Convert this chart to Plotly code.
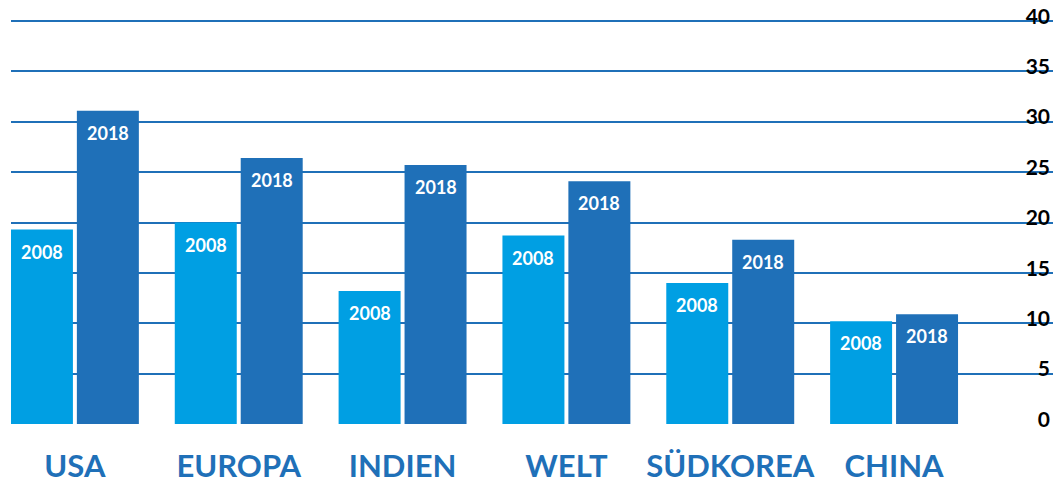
import plotly.graph_objects as go

categories = ["USA", "EUROPA", "INDIEN", "WELT", "SÜDKOREA", "CHINA"]
values_2008 = [19.3, 20.0, 13.2, 18.7, 14.0, 10.2]
values_2018 = [31.1, 26.4, 25.7, 24.1, 18.3, 10.9]
series_names = ["2008", "2018"]
y_ticks = [0, 5, 10, 15, 20, 25, 30, 35, 40]

c2008 = "#009fe3"
c2018 = "#1f70b8"

fig = go.Figure()
fig.add_trace(go.Bar(x=categories, y=values_2008, name=series_names[0],
                     marker=dict(color=c2008, line=dict(width=0))))
fig.add_trace(go.Bar(x=categories, y=values_2018, name=series_names[1],
                     marker=dict(color=c2018, line=dict(width=0))))

annots = []
for vals, name, sh in [(values_2008, series_names[0], -33), (values_2018, series_names[1], 33)]:
    for cat, v in zip(categories, vals):
        annots.append(dict(x=cat, y=v, text=name, showarrow=False, xshift=sh, yshift=-22,
                           yanchor="middle", xanchor="center",
                           font=dict(family="Lato", size=18, color="white", weight="bold")))

fig.update_layout(
    width=1056, height=477,
    margin=dict(l=11, r=3, t=17, b=53),
    paper_bgcolor="white", plot_bgcolor="white",
    barmode="group", bargap=0.195, bargroupgap=0.06,
    showlegend=False,
    annotations=annots,
    xaxis=dict(range=[-0.39, 5.97], showgrid=False, zeroline=False, showline=False,
               automargin=False,
               ticks="outside", ticklen=15, tickcolor="rgba(0,0,0,0)",
               tickfont=dict(family="Lato", size=31, color=c2018, weight="bold")),
    yaxis=dict(range=[0, 40.4], side="right", tickvals=y_ticks, automargin=False,
               ticklabelposition="inside top", ticklabeloverflow="allow",
               ticklabelshift=10,
               showgrid=True, gridcolor=c2018, gridwidth=2,
               zeroline=False, showline=False,
               tickfont=dict(family="Lato", size=21, color="black", weight="bold")),
)

fig.write_html("out.html", config={"displayModeBar": False},
               post_script="document.body.style.margin='0';document.body.style.overflow='hidden';")
